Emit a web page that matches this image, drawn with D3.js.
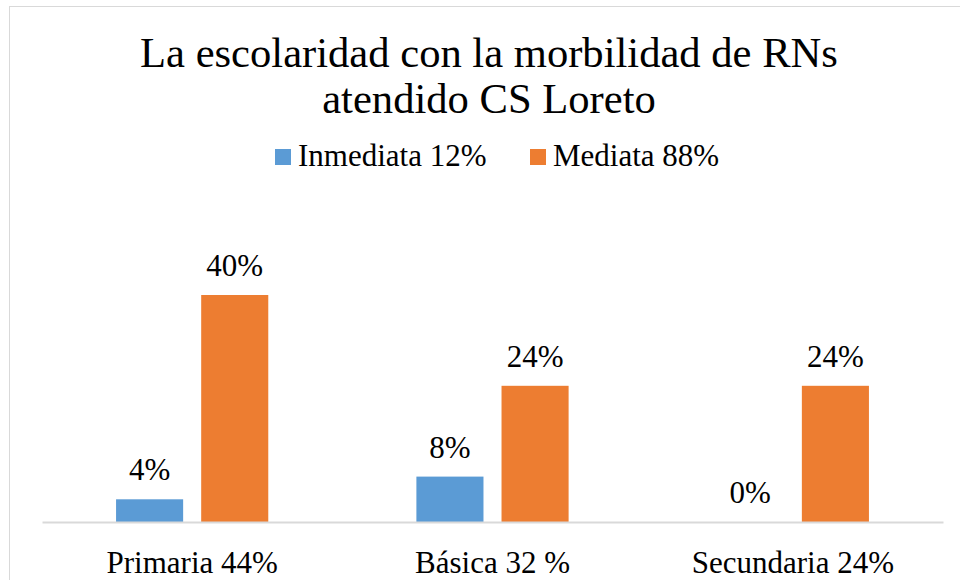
<!DOCTYPE html>
<html>
<head>
<meta charset="utf-8">
<script src="https://cdn.jsdelivr.net/npm/d3@7"></script>
<style>
  html, body { margin: 0; padding: 0; background: #fff; }
  svg { display: block; }
</style>
</head>
<body>
<div class="chart"></div>
<script>
let categories = ["Primaria 44%", "Básica 32 %", "Secundaria 24%"]
let seriesNames = ["Inmediata 12%", "Mediata 88%"]
let inmediata = [0.04, 0.08, 0.00]
let mediata = [0.40, 0.24, 0.24]
let valueLabels = [["4%", "40%"], ["8%", "24%"], ["0%", "24%"]]
let colors = ["#5B9BD5", "#ED7D31"]

let width = 960, height = 580
let serif = "'Liberation Serif', 'Times New Roman', Times, 'DejaVu Serif', serif"

let rows = categories.map((c, i) => ({
  cat: c,
  vals: [inmediata[i], mediata[i]].map((v, j) => ({ key: seriesNames[j], value: v, label: valueLabels[i][j], idx: j }))
}))

let svg = d3.select(".chart")
  .append("svg")
  .attr("width", width)
  .attr("height", height)
  .style("font-family", serif)

// chart frame
svg.append("rect")
  .attr("x", 9.5).attr("y", 6.5)
  .attr("width", 980).attr("height", 600)
  .attr("fill", "none")
  .attr("stroke", "#d9d9d9")

let x0 = d3.scaleBand()
  .domain(categories)
  .range([42, 943])

let x1 = d3.scaleBand()
  .domain(seriesNames)
  .range([0, x0.bandwidth()])
  .paddingInner(0.212)
  .paddingOuter(0.87)

let y = d3.scaleLinear()
  .domain([0, 0.5])
  .range([522, 238.25])

// title
let title = svg.append("text")
  .attr("text-anchor", "middle")
  .attr("font-size", 42.6)
  .style("font-family", serif)
  .attr("fill", "#000")
title.append("tspan").attr("x", 489).attr("y", 67).text("La escolaridad con la morbilidad de RNs")
title.append("tspan").attr("x", 489).attr("y", 113).text("atendido CS Loreto")

// legend
let legendX = [275, 530]
let legend = svg.selectAll(".legend")
  .data(seriesNames)
  .enter()
  .append("g")
  .attr("transform", (d, i) => `translate(${legendX[i]},149)`)
legend.append("rect")
  .attr("width", 16).attr("height", 16)
  .attr("fill", (d, i) => colors[i])
legend.append("text")
  .attr("x", 23).attr("y", 17)
  .attr("font-size", 31)
  .style("font-family", serif)
  .text(d => d)

// bars
let group = svg.selectAll(".grp")
  .data(rows)
  .enter()
  .append("g")
  .attr("transform", d => `translate(${x0(d.cat)},0)`)

group.selectAll("rect")
  .data(d => d.vals)
  .enter()
  .append("rect")
  .attr("x", d => x1(d.key))
  .attr("y", d => y(d.value))
  .attr("width", x1.bandwidth())
  .attr("height", d => y(0) - y(d.value))
  .attr("fill", d => colors[d.idx])

group.selectAll("text")
  .data(d => d.vals)
  .enter()
  .append("text")
  .attr("x", d => x1(d.key) + x1.bandwidth() / 2)
  .attr("y", d => y(d.value) - 19)
  .attr("text-anchor", "middle")
  .attr("font-size", 31)
  .style("font-family", serif)
  .text(d => d.label)

// baseline axis
let xAxis = svg.append("g")
  .attr("transform", `translate(0,${y(0)})`)
  .call(d3.axisBottom(x0).tickSize(0).tickPadding(29))
xAxis.select(".domain").attr("stroke", "#d9d9d9").attr("stroke-width", 2)
xAxis.selectAll("text")
  .attr("font-size", 31)
  .style("font-family", serif)
  .attr("fill", "#000")
  .attr("dy", "0.71em")
</script>
</body>
</html>
